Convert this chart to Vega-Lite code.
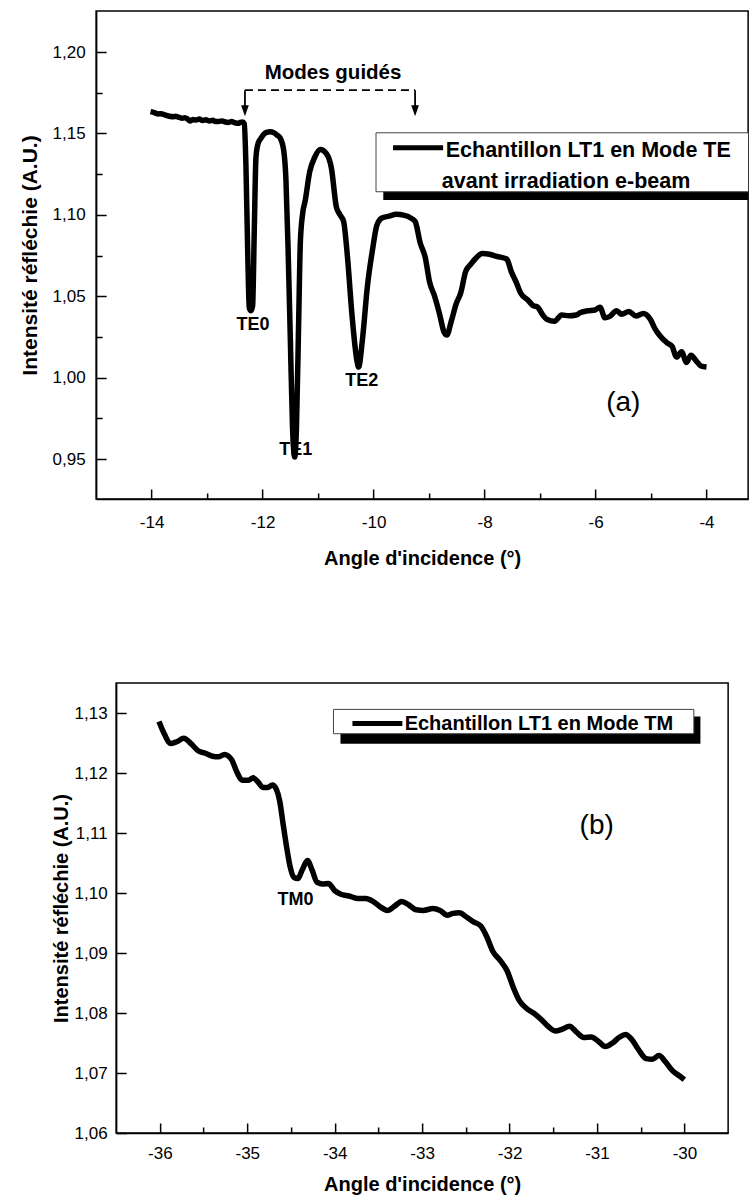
{
  "$schema": "https://vega.github.io/schema/vega-lite/v6.json",
  "padding": {"left": 18, "top": 10, "right": 0, "bottom": 0},
  "spacing": 113,
  "center": true,
  "datasets": {
    "te": [
      {"angle": -14.02, "intensite": 1.1634}, {"angle": -13.95, "intensite": 1.1628}, {"angle": -13.88, "intensite": 1.162},
      {"angle": -13.83, "intensite": 1.1621}, {"angle": -13.75, "intensite": 1.1612}, {"angle": -13.68, "intensite": 1.1606},
      {"angle": -13.6, "intensite": 1.1603}, {"angle": -13.57, "intensite": 1.1606}, {"angle": -13.5, "intensite": 1.1598},
      {"angle": -13.45, "intensite": 1.1593}, {"angle": -13.4, "intensite": 1.1597}, {"angle": -13.35, "intensite": 1.1588},
      {"angle": -13.31, "intensite": 1.1577}, {"angle": -13.25, "intensite": 1.1585}, {"angle": -13.2, "intensite": 1.1582},
      {"angle": -13.14, "intensite": 1.1588}, {"angle": -13.08, "intensite": 1.158}, {"angle": -13.02, "intensite": 1.1584},
      {"angle": -12.96, "intensite": 1.1577}, {"angle": -12.9, "intensite": 1.1581}, {"angle": -12.85, "intensite": 1.1574},
      {"angle": -12.79, "intensite": 1.1573}, {"angle": -12.73, "intensite": 1.1577}, {"angle": -12.67, "intensite": 1.157},
      {"angle": -12.62, "intensite": 1.1568}, {"angle": -12.56, "intensite": 1.1573}, {"angle": -12.5, "intensite": 1.1566},
      {"angle": -12.44, "intensite": 1.1562}, {"angle": -12.4, "intensite": 1.1568}, {"angle": -12.36, "intensite": 1.157},
      {"angle": -12.33, "intensite": 1.156}, {"angle": -12.3, "intensite": 1.13}, {"angle": -12.27, "intensite": 1.08},
      {"angle": -12.24, "intensite": 1.043}, {"angle": -12.21, "intensite": 1.0411}, {"angle": -12.18, "intensite": 1.044},
      {"angle": -12.15, "intensite": 1.09}, {"angle": -12.12, "intensite": 1.135}, {"angle": -12.08, "intensite": 1.144},
      {"angle": -12.03, "intensite": 1.147}, {"angle": -11.98, "intensite": 1.1495}, {"angle": -11.93, "intensite": 1.1507},
      {"angle": -11.86, "intensite": 1.1511}, {"angle": -11.8, "intensite": 1.1505}, {"angle": -11.74, "intensite": 1.149},
      {"angle": -11.68, "intensite": 1.147}, {"angle": -11.62, "intensite": 1.1397}, {"angle": -11.58, "intensite": 1.1222},
      {"angle": -11.54, "intensite": 1.0784}, {"angle": -11.5, "intensite": 1.0236}, {"angle": -11.46, "intensite": 0.9688},
      {"angle": -11.42, "intensite": 0.9513}, {"angle": -11.39, "intensite": 0.9688}, {"angle": -11.35, "intensite": 1.0346},
      {"angle": -11.32, "intensite": 1.0828}, {"angle": -11.28, "intensite": 1.1003}, {"angle": -11.23, "intensite": 1.1091},
      {"angle": -11.15, "intensite": 1.1266}, {"angle": -11.06, "intensite": 1.1354}, {"angle": -10.96, "intensite": 1.1402},
      {"angle": -10.85, "intensite": 1.1376}, {"angle": -10.76, "intensite": 1.1288}, {"angle": -10.67, "intensite": 1.1047},
      {"angle": -10.61, "intensite": 1.1003}, {"angle": -10.54, "intensite": 1.0959}, {"angle": -10.47, "intensite": 1.074},
      {"angle": -10.39, "intensite": 1.039}, {"angle": -10.3, "intensite": 1.0105}, {"angle": -10.27, "intensite": 1.0065},
      {"angle": -10.2, "intensite": 1.0236}, {"angle": -10.11, "intensite": 1.0565}, {"angle": -10.02, "intensite": 1.0784},
      {"angle": -9.94, "intensite": 1.0937}, {"angle": -9.85, "intensite": 1.0981}, {"angle": -9.72, "intensite": 1.0992},
      {"angle": -9.59, "intensite": 1.1003}, {"angle": -9.46, "intensite": 1.0998}, {"angle": -9.33, "intensite": 1.0981},
      {"angle": -9.25, "intensite": 1.0959}, {"angle": -9.16, "intensite": 1.0828}, {"angle": -9.07, "intensite": 1.074},
      {"angle": -8.99, "intensite": 1.0587}, {"angle": -8.9, "intensite": 1.05}, {"angle": -8.81, "intensite": 1.039},
      {"angle": -8.73, "intensite": 1.028}, {"angle": -8.68, "intensite": 1.0262}, {"angle": -8.6, "intensite": 1.0346},
      {"angle": -8.51, "intensite": 1.0455}, {"angle": -8.43, "intensite": 1.052}, {"angle": -8.34, "intensite": 1.0653},
      {"angle": -8.25, "intensite": 1.0696}, {"angle": -8.17, "intensite": 1.0729}, {"angle": -8.04, "intensite": 1.0762},
      {"angle": -7.91, "intensite": 1.0758}, {"angle": -7.78, "intensite": 1.0745}, {"angle": -7.6, "intensite": 1.0729},
      {"angle": -7.52, "intensite": 1.0653}, {"angle": -7.43, "intensite": 1.0587}, {"angle": -7.35, "intensite": 1.052},
      {"angle": -7.22, "intensite": 1.0477}, {"angle": -7.13, "intensite": 1.0444}, {"angle": -7.04, "intensite": 1.0433},
      {"angle": -6.96, "intensite": 1.039}, {"angle": -6.87, "intensite": 1.0357}, {"angle": -6.74, "intensite": 1.0346},
      {"angle": -6.61, "intensite": 1.0385}, {"angle": -6.48, "intensite": 1.038}, {"angle": -6.35, "intensite": 1.0385},
      {"angle": -6.27, "intensite": 1.04}, {"angle": -6.14, "intensite": 1.0411}, {"angle": -6.01, "intensite": 1.0416},
      {"angle": -5.92, "intensite": 1.0433}, {"angle": -5.83, "intensite": 1.0368}, {"angle": -5.75, "intensite": 1.0375},
      {"angle": -5.62, "intensite": 1.0411}, {"angle": -5.53, "intensite": 1.039}, {"angle": -5.4, "intensite": 1.0407},
      {"angle": -5.27, "intensite": 1.0379}, {"angle": -5.14, "intensite": 1.0394}, {"angle": -5.01, "intensite": 1.0357},
      {"angle": -4.93, "intensite": 1.0302}, {"angle": -4.84, "intensite": 1.0258}, {"angle": -4.71, "intensite": 1.0214},
      {"angle": -4.62, "intensite": 1.0192}, {"angle": -4.54, "intensite": 1.0127}, {"angle": -4.45, "intensite": 1.0159},
      {"angle": -4.36, "intensite": 1.0094}, {"angle": -4.28, "intensite": 1.0138}, {"angle": -4.19, "intensite": 1.0105},
      {"angle": -4.1, "intensite": 1.0072}, {"angle": -4.0, "intensite": 1.0065}
    ],
    "tm": [
      {"angle": -36.01, "intensite": 1.1286}, {"angle": -35.945, "intensite": 1.1264}, {"angle": -35.88, "intensite": 1.1249},
      {"angle": -35.808, "intensite": 1.1252}, {"angle": -35.726, "intensite": 1.1258}, {"angle": -35.644, "intensite": 1.1249},
      {"angle": -35.562, "intensite": 1.1237}, {"angle": -35.479, "intensite": 1.1233}, {"angle": -35.397, "intensite": 1.1228},
      {"angle": -35.332, "intensite": 1.1227}, {"angle": -35.26, "intensite": 1.1231}, {"angle": -35.178, "intensite": 1.1222},
      {"angle": -35.123, "intensite": 1.1203}, {"angle": -35.058, "intensite": 1.1188}, {"angle": -34.986, "intensite": 1.1188},
      {"angle": -34.932, "intensite": 1.1192}, {"angle": -34.877, "intensite": 1.1185}, {"angle": -34.822, "intensite": 1.1176},
      {"angle": -34.767, "intensite": 1.1176}, {"angle": -34.712, "intensite": 1.118}, {"angle": -34.668, "intensite": 1.1173},
      {"angle": -34.63, "intensite": 1.1154}, {"angle": -34.586, "intensite": 1.1111}, {"angle": -34.548, "intensite": 1.1075},
      {"angle": -34.51, "intensite": 1.1044}, {"angle": -34.466, "intensite": 1.1026}, {"angle": -34.422, "intensite": 1.1024},
      {"angle": -34.373, "intensite": 1.1038}, {"angle": -34.312, "intensite": 1.1054}, {"angle": -34.258, "intensite": 1.1038},
      {"angle": -34.203, "intensite": 1.1018}, {"angle": -34.137, "intensite": 1.1015}, {"angle": -34.071, "intensite": 1.1016},
      {"angle": -34.0, "intensite": 1.1004}, {"angle": -33.929, "intensite": 1.0998}, {"angle": -33.836, "intensite": 1.0995},
      {"angle": -33.742, "intensite": 1.0991}, {"angle": -33.644, "intensite": 1.0991}, {"angle": -33.562, "intensite": 1.0986},
      {"angle": -33.479, "intensite": 1.0977}, {"angle": -33.397, "intensite": 1.0971}, {"angle": -33.315, "intensite": 1.0978},
      {"angle": -33.233, "intensite": 1.0986}, {"angle": -33.151, "intensite": 1.098}, {"angle": -33.068, "intensite": 1.0972},
      {"angle": -32.986, "intensite": 1.0971}, {"angle": -32.877, "intensite": 1.0974}, {"angle": -32.795, "intensite": 1.0971},
      {"angle": -32.712, "intensite": 1.0963}, {"angle": -32.647, "intensite": 1.0966}, {"angle": -32.575, "intensite": 1.0967},
      {"angle": -32.493, "intensite": 1.096}, {"angle": -32.411, "intensite": 1.0952}, {"angle": -32.329, "intensite": 1.0945},
      {"angle": -32.263, "intensite": 1.0928}, {"angle": -32.192, "intensite": 1.0903}, {"angle": -32.11, "intensite": 1.0888},
      {"angle": -32.027, "intensite": 1.087}, {"angle": -31.956, "intensite": 1.0842}, {"angle": -31.89, "intensite": 1.0821},
      {"angle": -31.808, "intensite": 1.0808}, {"angle": -31.726, "intensite": 1.08}, {"angle": -31.644, "intensite": 1.079},
      {"angle": -31.562, "intensite": 1.0778}, {"angle": -31.479, "intensite": 1.077}, {"angle": -31.397, "intensite": 1.0773},
      {"angle": -31.315, "intensite": 1.0778}, {"angle": -31.233, "intensite": 1.0768}, {"angle": -31.151, "intensite": 1.0759},
      {"angle": -31.068, "intensite": 1.076}, {"angle": -30.986, "intensite": 1.0753}, {"angle": -30.904, "intensite": 1.0744},
      {"angle": -30.822, "intensite": 1.075}, {"angle": -30.74, "intensite": 1.076}, {"angle": -30.674, "intensite": 1.0764},
      {"angle": -30.603, "intensite": 1.0756}, {"angle": -30.521, "intensite": 1.0738}, {"angle": -30.438, "intensite": 1.0724},
      {"angle": -30.367, "intensite": 1.0723}, {"angle": -30.29, "intensite": 1.0729}, {"angle": -30.219, "intensite": 1.0719},
      {"angle": -30.137, "intensite": 1.0704}, {"angle": -30.055, "intensite": 1.0695}, {"angle": -30.0, "intensite": 1.0689}
    ],
    "one": [{}]
  },
  "vconcat": [
    {
      "width": 652,
      "height": 488,
      "view": {"stroke": "black", "strokeWidth": 1.5},
      "layer": [
        {
          "data": {"name": "te"},
          "mark": {"type": "line", "color": "black", "strokeWidth": 5.5, "interpolate": "monotone", "clip": true},
          "encoding": {
            "x": {"field": "angle", "type": "quantitative",
              "scale": {"domain": [-15, -3.25], "nice": false, "zero": false},
              "axis": {"title": "Angle d'incidence (°)", "values": [-14, -13, -12, -11, -10, -9, -8, -7, -6, -5, -4],
                "labelExpr": "datum.value % 2 == 0 ? '' + datum.value : ''",
                "tickSize": {"condition": {"test": "datum.value % 2 == 0", "value": -10}, "value": -6},
                "labelPadding": 25, "titlePadding": 14}},
            "y": {"field": "intensite", "type": "quantitative",
              "scale": {"domain": [0.9255, 1.2252], "nice": false, "zero": false},
              "axis": {"title": "Intensité réfléchie (A.U.)", "titleFontSize": 21,
                "values": [0.95, 0.975, 1.0, 1.025, 1.05, 1.075, 1.1, 1.125, 1.15, 1.175, 1.2],
                "labelExpr": "round(datum.value * 1000) % 50 == 0 ? replace(format(datum.value, '.2f'), '.', ',') : ''",
                "tickSize": {"condition": {"test": "round(datum.value * 1000) % 50 == 0", "value": -10}, "value": -6},
                "labelPadding": 21, "titlePadding": 12}}
          }
        },
        {
          "data": {"name": "one"},
          "mark": {"type": "rect", "color": "black", "clip": true},
          "encoding": {"x": {"datum": -9.825}, "x2": {"datum": -3.0}, "y": {"datum": 1.1459}, "y2": {"datum": 1.1091}}
        },
        {
          "data": {"name": "one"},
          "mark": {"type": "rect", "fill": "white", "stroke": "#444444", "strokeWidth": 1, "clip": true},
          "encoding": {"x": {"datum": -9.956}, "x2": {"datum": -3.1}, "y": {"datum": 1.1504}, "y2": {"datum": 1.1142}}
        },
        {
          "data": {"name": "one"},
          "mark": {"type": "rule", "color": "black", "strokeWidth": 5},
          "encoding": {"x": {"datum": -9.649}, "x2": {"datum": -8.747}, "y": {"datum": 1.1412}}
        },
        {
          "data": {"name": "one"},
          "mark": {"type": "text", "text": "Echantillon LT1 en Mode TE", "fontSize": 21.5, "fontWeight": "bold", "align": "left", "baseline": "alphabetic", "color": "black"},
          "encoding": {"x": {"datum": -8.7}, "y": {"datum": 1.1357}}
        },
        {
          "data": {"name": "one"},
          "mark": {"type": "text", "text": "avant irradiation e-beam", "fontSize": 21.5, "fontWeight": "bold", "align": "left", "baseline": "alphabetic", "color": "black"},
          "encoding": {"x": {"datum": -8.77}, "y": {"datum": 1.1163}}
        },
        {
          "data": {"name": "one"},
          "mark": {"type": "text", "text": "Modes guidés", "fontSize": 20.5, "fontWeight": "bold", "align": "center", "baseline": "middle", "color": "black"},
          "encoding": {"x": {"datum": -10.73}, "y": {"datum": 1.187}}
        },
        {
          "data": {"name": "one"},
          "mark": {"type": "rule", "color": "black", "strokeWidth": 1.8, "strokeDash": [8, 5]},
          "encoding": {"x": {"datum": -12.318}, "x2": {"datum": -9.252}, "y": {"datum": 1.1766}}
        },
        {
          "data": {"name": "one"},
          "mark": {"type": "rule", "color": "black", "strokeWidth": 1.8},
          "encoding": {"x": {"datum": -12.318}, "y": {"datum": 1.1766}, "y2": {"datum": 1.163}}
        },
        {
          "data": {"name": "one"},
          "mark": {"type": "rule", "color": "black", "strokeWidth": 1.8},
          "encoding": {"x": {"datum": -9.252}, "y": {"datum": 1.1766}, "y2": {"datum": 1.163}}
        },
        {
          "data": {"name": "one"},
          "mark": {"type": "point", "shape": "M -0.35 -1 L 0.35 -1 L 0 0 Z", "filled": true, "color": "black", "opacity": 1, "size": 484, "strokeWidth": 0},
          "encoding": {"x": {"datum": -12.318}, "y": {"datum": 1.1606}}
        },
        {
          "data": {"name": "one"},
          "mark": {"type": "point", "shape": "M -0.35 -1 L 0.35 -1 L 0 0 Z", "filled": true, "color": "black", "opacity": 1, "size": 484, "strokeWidth": 0},
          "encoding": {"x": {"datum": -9.252}, "y": {"datum": 1.1606}}
        },
        {
          "data": {"name": "one"},
          "mark": {"type": "text", "text": "TE0", "fontSize": 18, "fontWeight": "bold", "align": "center", "baseline": "middle", "color": "black"},
          "encoding": {"x": {"datum": -12.174}, "y": {"datum": 1.0324}}
        },
        {
          "data": {"name": "one"},
          "mark": {"type": "text", "text": "TE1", "fontSize": 18, "fontWeight": "bold", "align": "center", "baseline": "middle", "color": "black"},
          "encoding": {"x": {"datum": -11.402}, "y": {"datum": 0.9557}}
        },
        {
          "data": {"name": "one"},
          "mark": {"type": "text", "text": "TE2", "fontSize": 18, "fontWeight": "bold", "align": "center", "baseline": "middle", "color": "black"},
          "encoding": {"x": {"datum": -10.214}, "y": {"datum": 0.998}}
        },
        {
          "data": {"name": "one"},
          "mark": {"type": "text", "text": "(a)", "fontSize": 28, "align": "center", "baseline": "middle", "color": "black"},
          "encoding": {"x": {"datum": -5.5}, "y": {"datum": 0.9845}}
        }
      ]
    },
    {
      "width": 612,
      "height": 450,
      "view": {"stroke": "black", "strokeWidth": 1.5},
      "layer": [
        {
          "data": {"name": "tm"},
          "mark": {"type": "line", "color": "black", "strokeWidth": 5.5, "interpolate": "monotone", "clip": true},
          "encoding": {
            "x": {"field": "angle", "type": "quantitative",
              "scale": {"domain": [-36.5, -29.5], "nice": false, "zero": false},
              "axis": {"title": "Angle d'incidence (°)",
                "values": [-36, -35.5, -35, -34.5, -34, -33.5, -33, -32.5, -32, -31.5, -31, -30.5, -30],
                "labelExpr": "datum.value == floor(datum.value) ? '' + datum.value : ''",
                "tickSize": {"condition": {"test": "datum.value == floor(datum.value)", "value": -10}, "value": -6},
                "labelPadding": 22, "titlePadding": 9}},
            "y": {"field": "intensite", "type": "quantitative",
              "scale": {"domain": [1.06, 1.135], "nice": false, "zero": false},
              "axis": {"title": "Intensité réfléchie (A.U.)",
                "values": [1.06, 1.065, 1.07, 1.075, 1.08, 1.085, 1.09, 1.095, 1.1, 1.105, 1.11, 1.115, 1.12, 1.125, 1.13],
                "labelExpr": "round(datum.value * 1000) % 10 == 0 ? replace(format(datum.value, '.2f'), '.', ',') : ''",
                "tickSize": {"condition": {"test": "round(datum.value * 1000) % 10 == 0", "value": -10}, "value": -6},
                "labelPadding": 19, "titlePadding": 3}}
          }
        },
        {
          "data": {"name": "one"},
          "mark": {"type": "rect", "color": "black"},
          "encoding": {"x": {"datum": -33.934}, "x2": {"datum": -29.817}, "y": {"datum": 1.12943}, "y2": {"datum": 1.12489}}
        },
        {
          "data": {"name": "one"},
          "mark": {"type": "rect", "fill": "white", "stroke": "#444444", "strokeWidth": 1},
          "encoding": {"x": {"datum": -34.014}, "x2": {"datum": -29.892}, "y": {"datum": 1.1306}, "y2": {"datum": 1.12655}}
        },
        {
          "data": {"name": "one"},
          "mark": {"type": "rule", "color": "black", "strokeWidth": 5},
          "encoding": {"x": {"datum": -33.797}, "x2": {"datum": -33.226}, "y": {"datum": 1.12827}}
        },
        {
          "data": {"name": "one"},
          "mark": {"type": "text", "text": "Echantillon LT1 en Mode TM", "fontSize": 20, "fontWeight": "bold", "align": "left", "baseline": "alphabetic", "color": "black"},
          "encoding": {"x": {"datum": -33.2}, "y": {"datum": 1.12722}}
        },
        {
          "data": {"name": "one"},
          "mark": {"type": "text", "text": "TM0", "fontSize": 18, "fontWeight": "bold", "align": "center", "baseline": "middle", "color": "black"},
          "encoding": {"x": {"datum": -34.449}, "y": {"datum": 1.0988}}
        },
        {
          "data": {"name": "one"},
          "mark": {"type": "text", "text": "(b)", "fontSize": 28, "align": "center", "baseline": "middle", "color": "black"},
          "encoding": {"x": {"datum": -31.003}, "y": {"datum": 1.11112}}
        }
      ]
    }
  ],
  "config": {
    "font": "Liberation Sans",
    "axis": {
      "grid": false,
      "domainColor": "black", "domainWidth": 1.5,
      "tickColor": "black", "tickWidth": 1.5,
      "labelColor": "black", "labelFont": "Liberation Sans", "labelFontSize": 17,
      "titleColor": "black", "titleFont": "Liberation Sans", "titleFontSize": 20, "titleFontWeight": "bold",
      "labelFlush": false, "labelOverlap": false
    },
    "text": {"font": "Liberation Sans"}
  }
}
